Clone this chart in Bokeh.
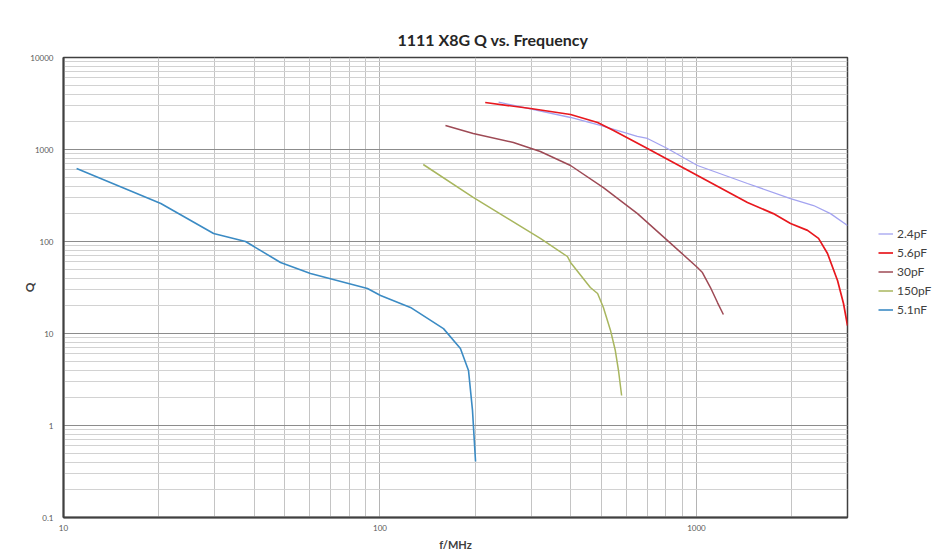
from bokeh.plotting import figure
from bokeh.models import FixedTicker, CustomJSTickFormatter, Legend, LegendItem
from bokeh.embed import file_html
from bokeh.resources import INLINE

# ---- data ----
f_2p4pF = [237, 400, 497, 650, 700, 809, 1007, 1449, 1982, 2344, 2651, 3000]
q_2p4pF = [3267, 2228, 1824, 1390, 1318, 1026, 670, 427, 293, 246, 201, 149]

f_5p6pF = [215, 299, 400, 487, 547, 700, 1007, 1449, 1749, 1982, 2243, 2430, 2594, 2790, 2914, 3000]
q_5p6pF = [3243, 2790, 2401, 1966, 1609, 1026, 521, 265, 201, 157, 132, 108, 74, 37.7, 21.2, 12.2]

f_30pF = [161, 197, 264, 321, 400, 508, 651, 809, 1007, 1044, 1107, 1165, 1216]
q_30pF = [1824, 1493, 1191, 951, 670, 386, 201, 103, 52.1, 46, 31.6, 21.7, 16.1]

f_150pF = [137, 197, 321, 391, 400, 462, 487, 508, 535, 554, 567, 580]
q_150pF = [687, 301, 108, 68.7, 59.2, 31.6, 27.2, 19.2, 10.8, 6.53, 3.96, 2.12]

f_5p1nF = [11.0, 20.3, 29.8, 37.6, 48.5, 60.3, 91.3, 100.4, 124.8, 158.7, 179.5, 190.4, 196, 200.4]
q_5p1nF = [622, 259, 122, 100, 59.2, 44.9, 30.8, 25.9, 19.2, 11.3, 6.87, 3.96, 1.46, 0.406]

series_names = ["2.4pF", "5.6pF", "30pF", "150pF", "5.1nF"]
series_x = [f_2p4pF, f_5p6pF, f_30pF, f_150pF, f_5p1nF]
series_y = [q_2p4pF, q_5p6pF, q_30pF, q_150pF, q_5p1nF]
series_colors = ["#A3A3F0", "#E8181E", "#9E4A55", "#A8B65E", "#3B8BC4"]
series_widths = [1.3, 1.7, 1.5, 1.5, 1.6]

x_major = [10, 100, 1000]
y_major = [0.1, 1, 10, 100, 1000, 10000]

FONT = "Lato"

x_minor = [k * d for d in [10, 100, 1000] for k in range(1, 10) if k * d <= 3000]
y_minor = [round(k * d, 6) for d in [0.1, 1, 10, 100, 1000] for k in range(1, 10)]

p = figure(frame_width=784, frame_height=460, x_axis_type="log", y_axis_type="log",
           x_range=(10, 3000), y_range=(0.1, 10000),
           output_backend="svg", toolbar_location=None,
           min_border_left=63, min_border_right=90, min_border_top=57, min_border_bottom=36,
           title="1111 X8G Q vs. Frequency")

p.title.text_font = FONT
p.title.text_font_size = "16px"
p.title.text_font_style = "bold"
p.title.text_color = "#262626"
p.title.align = "left"
p.title.offset = 334
p.title.standoff = 17

p.outline_line_color = "#404040"
p.outline_line_width = 1.5

for ax, major, minor in [(p.xaxis[0], x_major, x_minor), (p.yaxis[0], y_major, y_minor)]:
    ax.ticker = FixedTicker(ticks=major, minor_ticks=minor)
    ax.formatter = CustomJSTickFormatter(code="return tick.toString();")
    ax.major_tick_line_color = None
    ax.minor_tick_line_color = None
    ax.axis_line_color = "#404040"
    ax.axis_line_width = 2
    ax.major_label_text_font = FONT
    ax.major_label_text_font_size = "8px"
    ax.major_label_text_color = "#595959"
    ax.axis_label_text_font = FONT
    ax.axis_label_text_font_style = "bold"
    ax.axis_label_text_color = "#404040"

p.xaxis.axis_label = "f/MHz"
p.yaxis.axis_label = "Q"
p.xaxis.axis_label_text_font_size = "11px"
p.yaxis.axis_label_text_font_size = "12px"
p.xaxis.major_label_standoff = 1
p.xaxis.axis_label_standoff = 4
p.yaxis.major_label_standoff = 4
p.yaxis.axis_label_standoff = -10

p.xgrid.grid_line_color = "#b4b4b4"
p.xgrid.minor_grid_line_color = "#c4c4c4"
p.ygrid.grid_line_color = "#8c8c8c"
p.ygrid.minor_grid_line_color = "#d2d2d2"

items = []
for name, xs, ys, c, w in zip(series_names, series_x, series_y, series_colors, series_widths):
    r = p.line(xs, ys, line_color=c, line_width=w)
    items.append(LegendItem(label=name, renderers=[r]))

legend = Legend(items=items, location=(31, 198), padding=0, margin=0, spacing=0,
                glyph_width=15, glyph_height=19, label_standoff=4,
                label_text_font=FONT, label_text_font_size="12px", label_text_color="#404040",
                border_line_color=None, background_fill_alpha=0)
p.add_layout(legend, "right")

open("out.html", "w").write(file_html(p, INLINE))
